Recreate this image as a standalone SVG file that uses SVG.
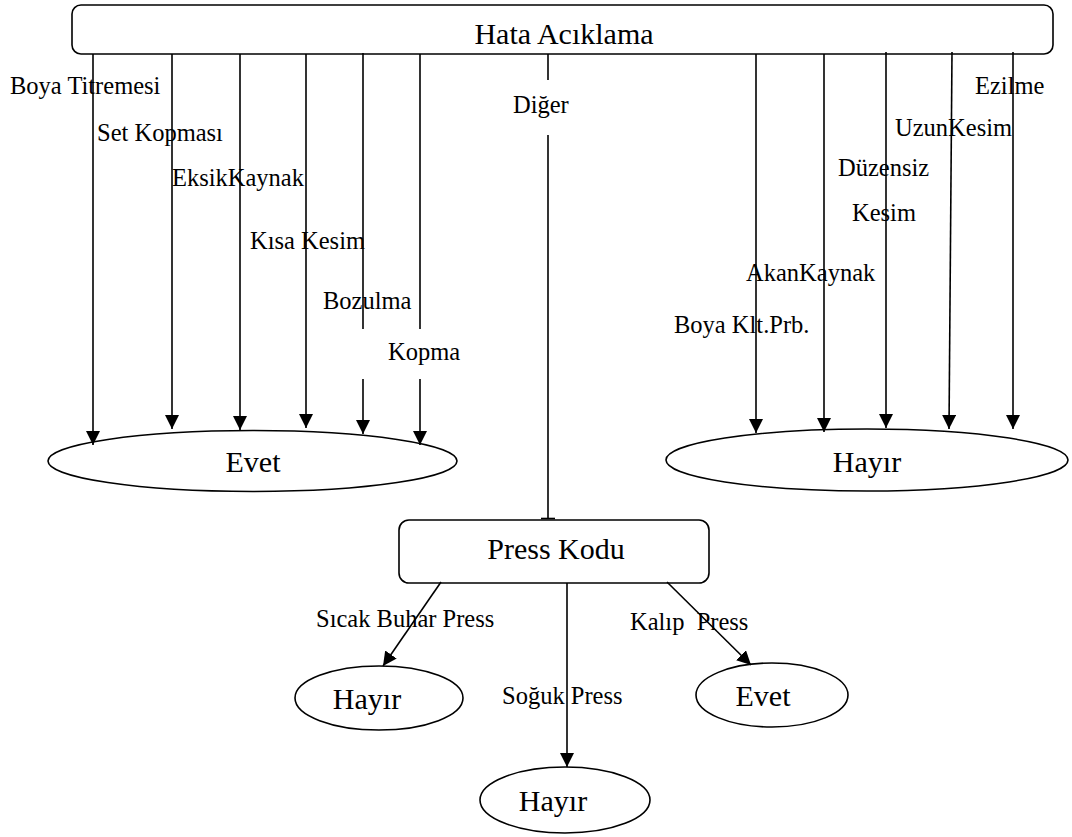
<svg xmlns="http://www.w3.org/2000/svg" width="1072" height="837" viewBox="0 0 1072 837">
  <style>
    .shape { fill: #ffffff; stroke: #000000; stroke-width: 1.6; }
    .edge { fill: none; stroke: #000000; stroke-width: 1.6; }
    .node-text { font-family: "Liberation Serif", "Times New Roman", serif; font-size: 30px; fill: #000000; }
    .edge-text { font-family: "Liberation Serif", "Times New Roman", serif; font-size: 24.5px; fill: #000000; white-space: pre; }
  </style>
  <defs>
    <marker id="arrow" markerUnits="userSpaceOnUse" markerWidth="16" markerHeight="16" refX="14" refY="7" orient="auto">
      <path d="M0,0 L14,7 L0,14 z" fill="#000000"/>
    </marker>
  </defs>

  <rect width="1072" height="837" fill="#ffffff"/>

  <!-- nodes -->
  <g id="hata-aciklama">
    <rect class="shape" x="72" y="5" width="981" height="49" rx="9"/>
    <text class="node-text" x="564" y="44" text-anchor="middle">Hata Acıklama</text>
  </g>
  <g id="evet-1">
    <ellipse class="shape" cx="252.5" cy="461" rx="204.5" ry="30.5"/>
    <text class="node-text" x="253" y="472" text-anchor="middle">Evet</text>
  </g>
  <g id="hayir-1">
    <ellipse class="shape" cx="867" cy="460" rx="201" ry="31"/>
    <text class="node-text" x="867" y="472" text-anchor="middle">Hayır</text>
  </g>
  <g id="press-kodu">
    <rect class="shape" x="399" y="520" width="310" height="63" rx="10"/>
    <text class="node-text" x="556" y="559" text-anchor="middle">Press Kodu</text>
  </g>
  <g id="hayir-2">
    <ellipse class="shape" cx="379" cy="698" rx="84" ry="32"/>
    <text class="node-text" x="367" y="709" text-anchor="middle">Hayır</text>
  </g>
  <g id="hayir-3">
    <ellipse class="shape" cx="565" cy="800" rx="85" ry="33"/>
    <text class="node-text" x="553" y="811" text-anchor="middle">Hayır</text>
  </g>
  <g id="evet-2">
    <ellipse class="shape" cx="772" cy="695" rx="76" ry="32"/>
    <text class="node-text" x="763" y="706" text-anchor="middle">Evet</text>
  </g>

  <!-- connectors -->
  <g id="connectors">
    <line class="edge" x1="93" y1="54" x2="93" y2="445" marker-end="url(#arrow)"/>
    <line class="edge" x1="172" y1="54" x2="172" y2="429" marker-end="url(#arrow)"/>
    <line class="edge" x1="240" y1="54" x2="240" y2="430" marker-end="url(#arrow)"/>
    <line class="edge" x1="306" y1="54" x2="306" y2="428" marker-end="url(#arrow)"/>
    <line class="edge" x1="363" y1="53" x2="363" y2="329"/>
    <line class="edge" x1="363" y1="379" x2="363" y2="434" marker-end="url(#arrow)"/>
    <line class="edge" x1="420" y1="54" x2="420" y2="329"/>
    <line class="edge" x1="420" y1="379" x2="420" y2="445" marker-end="url(#arrow)"/>

    <line class="edge" x1="548" y1="54" x2="548" y2="80"/>
    <line class="edge" x1="548" y1="135" x2="548" y2="519"/>
    <line class="edge" x1="541" y1="518.5" x2="555" y2="518.5"/>

    <line class="edge" x1="756" y1="54" x2="756" y2="433" marker-end="url(#arrow)"/>
    <line class="edge" x1="824" y1="54" x2="824" y2="432" marker-end="url(#arrow)"/>
    <line class="edge" x1="886" y1="52" x2="886" y2="428" marker-end="url(#arrow)"/>
    <line class="edge" x1="952" y1="52" x2="949" y2="429" marker-end="url(#arrow)"/>
    <line class="edge" x1="1013" y1="52" x2="1013" y2="429" marker-end="url(#arrow)"/>

    <line class="edge" x1="441" y1="582" x2="383" y2="666" marker-end="url(#arrow)"/>
    <line class="edge" x1="567" y1="583" x2="567" y2="767" marker-end="url(#arrow)"/>
    <line class="edge" x1="667" y1="582" x2="751" y2="665" marker-end="url(#arrow)"/>
  </g>

  <!-- connector labels -->
  <g id="labels">
    <text class="edge-text" x="10" y="94">Boya Titremesi</text>
    <text class="edge-text" x="97" y="141">Set Kopması</text>
    <text class="edge-text" x="172" y="186">EksikKaynak</text>
    <text class="edge-text" x="250" y="249">Kısa Kesim</text>
    <text class="edge-text" x="323" y="309">Bozulma</text>
    <text class="edge-text" x="388" y="360">Kopma</text>
    <text class="edge-text" x="513" y="113">Diğer</text>
    <text class="edge-text" x="975" y="94">Ezilme</text>
    <text class="edge-text" x="895" y="136">UzunKesim</text>
    <text class="edge-text" x="838" y="176">Düzensiz</text>
    <text class="edge-text" x="852" y="221">Kesim</text>
    <text class="edge-text" x="746" y="281">AkanKaynak</text>
    <text class="edge-text" x="674" y="333">Boya Klt.Prb.</text>
    <text class="edge-text" x="316" y="627">Sıcak Buhar Press</text>
    <text class="edge-text" x="630" y="630" xml:space="preserve">Kalıp  Press</text>
    <text class="edge-text" x="502" y="704">Soğuk Press</text>
  </g>
</svg>
